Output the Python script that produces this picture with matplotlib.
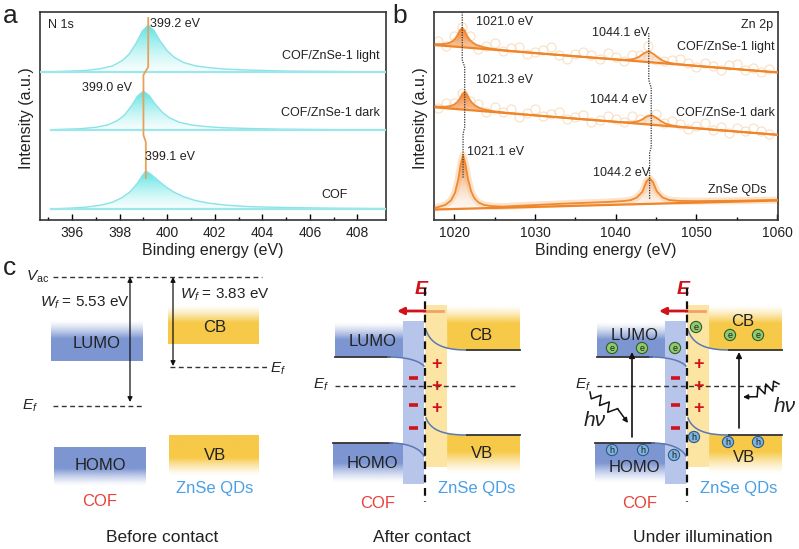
import numpy as np
import matplotlib.pyplot as plt
import matplotlib.colors as mcolors
from matplotlib.patches import Circle, FancyArrowPatch, Polygon

plt.rcParams['font.family'] = ['Liberation Sans', 'DejaVu Sans']
plt.rcParams['mathtext.fontset'] = 'custom'
plt.rcParams['mathtext.rm'] = 'Liberation Sans'
plt.rcParams['mathtext.it'] = 'Liberation Sans:italic'
plt.rcParams['mathtext.bf'] = 'Liberation Sans:bold:italic'

# ---------------- data: (a) N 1s ----------------
n1s_ticks = [396, 398, 400, 402, 404, 406, 408]
light_a_e = [394.7, 395.5, 396.5, 397.2, 397.7, 398.1, 398.4, 398.7, 398.95, 399.2, 399.45,
             399.7, 400.0, 400.3, 400.7, 401.2, 401.8, 402.5, 403.5, 405, 407, 409.2]
light_a_y = [148, 148.5, 149.4, 151.3, 154.1, 159.3, 165.9, 177.1, 188.9, 195, 189.4,
             179, 169.2, 162.6, 157.4, 154.1, 152.2, 150.8, 149.9, 148.9, 148.5, 148]
light_a_base = [148, 148]
dark_a_e = [395.1, 395.3, 396.3, 397.0, 397.5, 397.9, 398.2, 398.5, 398.75, 399.0, 399.25,
            399.5, 399.8, 400.1, 400.5, 401.0, 401.6, 402.3, 403.3, 404.8, 406.8, 409.2]
dark_a_y = [90, 90.4, 91.2, 92.7, 95.1, 99.4, 104.8, 114.2, 123.9, 129, 124.3,
            115.7, 107.6, 102.1, 97.8, 95.1, 93.5, 92.3, 91.6, 90.8, 90.4, 90]
dark_a_base = [90, 90]
cof_a_e = [395.1, 395.9, 396.6, 397.2, 397.7, 398.1, 398.45, 398.75, 398.95, 399.1, 399.3,
           399.6, 399.95, 400.3, 400.7, 401.2, 401.8, 402.5, 403.5, 405, 407, 409.2]
cof_a_y = [11, 11.8, 12.9, 14.8, 17.8, 22.4, 28.5, 36.8, 44.4, 49, 46,
           39.9, 33, 27.7, 23.2, 19.4, 16.7, 14.8, 13.3, 12.5, 11.8, 11.4]
cof_a_base = [11, 11]
shift_a_x = [399.2, 399.2, 399.0, 399.0, 399.1, 399.1]
shift_a_y = [202, 153, 145, 85, 78, 42]

# ---------------- data: (b) Zn 2p ----------------
zn_ticks = [1020, 1030, 1040, 1050, 1060]
light_b_e = [1017.7, 1018.5, 1019.2, 1019.7, 1020.1, 1020.4, 1020.7, 1021.0, 1021.3, 1021.6,
             1021.9, 1022.3, 1022.8, 1023.5, 1024.5, 1026, 1030, 1036, 1040.6, 1041.6,
             1042.3, 1042.9, 1043.5, 1044.1, 1044.7, 1045.3, 1045.9, 1046.6, 1047.6, 1052, 1060]
light_b_y = [175.9, 175.9, 176.6, 178.3, 181.1, 184.8, 189.7, 192.2, 189.4, 184.1,
             180.4, 177.4, 174.9, 173.1, 171.5, 169.9, 166.9, 163.1, 160.3, 160.3,
             161.2, 163.2, 166.8, 168.8, 166.0, 162.0, 159.1, 157.3, 155.9, 152.8, 147.6]
light_b_base = [174.9, 147.6]
dark_b_e = [1017.7, 1018.8, 1019.5, 1020.0, 1020.4, 1020.7, 1021.0, 1021.3, 1021.6, 1021.9,
            1022.2, 1022.6, 1023.1, 1023.8, 1024.8, 1026.3, 1030, 1036, 1040.9, 1041.9,
            1042.6, 1043.2, 1043.8, 1044.4, 1045.0, 1045.6, 1046.2, 1046.9, 1047.9, 1052, 1060]
dark_b_y = [113.5, 113.3, 113.9, 115.4, 118.1, 121.5, 126.0, 128.3, 125.6, 120.7,
            117.3, 114.5, 112.2, 110.4, 108.9, 107.4, 104.6, 100.7, 97.8, 97.7,
            98.4, 100.1, 103.3, 105.0, 102.5, 98.9, 96.3, 94.7, 93.3, 90.4, 85.2]
dark_b_base = [112.6, 85.2]
qd_b_e = [1017.7, 1018.9, 1019.6, 1020.1, 1020.5, 1020.8, 1021.1, 1021.4, 1021.7, 1022.1,
          1022.5, 1023.0, 1023.7, 1024.6, 1026, 1029, 1034, 1039, 1041.0, 1041.9, 1042.6,
          1043.3, 1043.8, 1044.2, 1044.6, 1045.1, 1045.8, 1046.6, 1047.8, 1050, 1055, 1060]
qd_b_y = [12.2, 15.1, 19.5, 27.2, 40.6, 55.8, 65.0, 55.9, 41.5, 28.7,
          21.8, 17.6, 15.0, 13.9, 13.4, 14.6, 16.5, 18.0, 19.0, 20.0, 22.4,
          28.2, 38.5, 41.7, 38.2, 28.6, 22.6, 20.0, 19.1, 18.9, 19.3, 20.0]
qd_b_base = [10.5, 19.5]
raw_b_e = list(range(1018, 1060))
raw_light_y = [178.9, 174.3, 184.3, 193.2, 183.5, 171.2, 174.4, 176.8, 168.5, 171.9, 173.2,
               165.6, 167.9, 170.3, 172.6, 165.0, 161.4, 165.7, 168.1, 165.4, 160.8, 167.1,
               162.5, 158.5, 165.4, 164.9, 173.6, 160.3, 158.8, 159.6, 161.3, 156.7, 153.0,
               157.4, 153.8, 150.1, 154.5, 155.8, 150.2, 151.5, 147.9, 151.2]
raw_dark_y = [112.3, 117.3, 117.4, 127.0, 119.4, 115.5, 108.3, 112.9, 108.2, 110.6, 102.9,
              107.3, 110.6, 104.0, 106.3, 107.7, 101.0, 103.4, 104.7, 98.1, 100.4, 103.8,
              101.1, 97.5, 103.7, 100.9, 101.4, 105.7, 97.2, 98.6, 96.0, 91.3, 93.7,
              97.0, 90.4, 92.7, 87.1, 92.4, 88.8, 92.2, 88.5, 85.9]
shift_b1_x = [1021.0, 1021.0, 1021.3, 1021.3, 1021.1, 1021.1]
shift_b1_y = [208, 160, 153, 93, 86, 42]
shift_b2_x = [1044.1, 1044.1, 1044.4, 1044.4, 1044.2, 1044.2]
shift_b2_y = [187, 140, 132, 73, 67, 20]

# ---------------- (c) work functions ----------------
wf_cof = 5.53
wf_znse = 3.83

W, H = 799, 549
TXT = '#222222'
BLUE, BLUE_L = '#7d96d2', '#b8c5ea'
YEL, YEL_L = '#f7c948', '#fce5a2'
RED = '#d0121b'

fig = plt.figure(figsize=(W / 100, H / 100), dpi=100)


def px_box(l, t, r, b):
    return [l / W, 1 - b / H, (r - l) / W, (b - t) / H]


ax_a = fig.add_axes(px_box(40, 12, 386, 220))
ax_b = fig.add_axes(px_box(434, 12, 778, 220))
# overlay axes in pixel coordinates for panel c and all free text
ax_c = fig.add_axes([0, 0, 1, 1], zorder=5)
ax_c.patch.set_alpha(0)


def grad_fill(ax, x, y, xb, yb, c_top, c_bot, a_top, a_bot, z=2):
    px = np.r_[x, xb[::-1]]
    py = np.r_[y, yb[::-1]]
    poly = ax.fill(px, py, facecolor='none', edgecolor='none')[0]
    c0 = np.array(mcolors.to_rgba(c_bot, a_bot))
    c1 = np.array(mcolors.to_rgba(c_top, a_top))
    t = np.linspace(0, 1, 100)[:, None]
    img = (c0 + (c1 - c0) * t)[:, None, :]
    im = ax.imshow(img, extent=(px.min(), px.max(), py.min(), py.max()), origin='lower',
                   aspect='auto', zorder=z, interpolation='bilinear')
    im.set_clip_path(poly)


# ---------------- panel a ----------------
for e, y, base in [(light_a_e, light_a_y, light_a_base), (dark_a_e, dark_a_y, dark_a_base),
                   (cof_a_e, cof_a_y, cof_a_base)]:
    xb = [e[0], e[-1]]
    grad_fill(ax_a, e, y, xb, base, '#45e0e0', '#effcfc', 0.9, 0.45)
    ax_a.plot(e, y, color='#8ae3e7', lw=1.0, zorder=3)
    ax_a.plot(xb, base, color='#9be7eb', lw=1.6, zorder=3)
ax_a.plot(shift_a_x, shift_a_y, color='#e8a15a', lw=1.3, zorder=4)
ax_a.set_xlim(394.65, 409.2)
ax_a.set_ylim(0, 208)
ax_a.set_xticks(n1s_ticks)
ax_a.set_xticks(np.arange(395, 409, 1), minor=True)

# ---------------- panel b ----------------
ax_b.plot(qd_b_e, qd_b_y, color='#fde3c9', lw=5, zorder=1, solid_capstyle='round')
ax_b.plot(raw_b_e, raw_light_y, 'o', ms=6.5, mfc='none', mec='#f9dfc4', mew=0.8, zorder=1)
ax_b.plot(raw_b_e, raw_dark_y, 'o', ms=6.5, mfc='none', mec='#f9dfc4', mew=0.8, zorder=1)
for e, y, base in [(light_b_e, light_b_y, light_b_base), (dark_b_e, dark_b_y, dark_b_base),
                   (qd_b_e, qd_b_y, qd_b_base)]:
    xb = [e[0], e[-1]]
    grad_fill(ax_b, e, y, xb, base, '#ee741a', '#fde9d6', 0.95, 0.3)
    ax_b.plot(e, y, color='#f08a30', lw=1.3, zorder=3)
    ax_b.plot(xb, base, color='#ef8428', lw=1.6, zorder=3)
ax_b.plot(shift_b1_x, shift_b1_y, color='#333333', lw=0.9, ls=(0, (1, 1)), zorder=4)
ax_b.plot(shift_b2_x, shift_b2_y, color='#333333', lw=0.9, ls=(0, (1, 1)), zorder=4)
ax_b.set_xlim(1017.5, 1060.1)
ax_b.set_ylim(0, 208)
ax_b.set_xticks(zn_ticks)
ax_b.set_xticks(np.arange(1025, 1060, 10), minor=True)

for ax in (ax_a, ax_b):
    ax.set_yticks([])
    ax.tick_params(axis='x', which='major', direction='in', length=4, width=1,
                   labelsize=10, pad=4, labelcolor=TXT)
    ax.tick_params(axis='x', which='minor', direction='in', length=2.5, width=1)
    for s in ax.spines.values():
        s.set_linewidth(1.2)
        s.set_color('#333333')

# ---------------- panel c (pixel coordinates) ----------------
c = ax_c
c.set_xlim(0, W)
c.set_ylim(H, 0)
c.axis('off')


def T(x, y, s, size=12, color=TXT, ha='center', va='center', **kw):
    c.text(x, y, s, fontsize=size, color=color, ha=ha, va=va, **kw)


# panel letters, axis titles and annotations of a/b
T(3, 23, 'a', 19, ha='left', va='baseline')
T(392, 23, 'b', 19, ha='left', va='baseline')
T(3, 275, 'c', 19, ha='left', va='baseline')
T(213, 251, 'Binding energy (eV)', 11.5)
T(606, 250, 'Binding energy (eV)', 11.5)
T(26, 118, 'Intensity (a.u.)', 11.5, rotation=90)
T(421, 118, 'Intensity (a.u.)', 11.5, rotation=90)
T(48, 25, 'N 1s', 9, ha='left')
T(150, 24, '399.2 eV', 9, ha='left')
T(380, 56, 'COF/ZnSe-1 light', 9, ha='right')
T(82, 88, '399.0 eV', 9, ha='left')
T(380, 113, 'COF/ZnSe-1 dark', 9, ha='right')
T(145, 157, '399.1 eV', 9, ha='left')
T(348, 195, 'COF', 9, ha='right')
T(476, 22, '1021.0 eV', 9, ha='left')
T(592, 33, '1044.1 eV', 9, ha='left')
T(773, 25, 'Zn 2p', 9, ha='right')
T(775, 47, 'COF/ZnSe-1 light', 9, ha='right')
T(476, 80, '1021.3 eV', 9, ha='left')
T(590, 100, '1044.4 eV', 9, ha='left')
T(775, 113, 'COF/ZnSe-1 dark', 9, ha='right')
T(467, 152, '1021.1 eV', 9, ha='left')
T(593, 173, '1044.2 eV', 9, ha='left')
T(767, 190, 'ZnSe QDs', 9, ha='right')


def grad_region(verts, color, fade, solid=0.55, z=1):
    verts = np.asarray(verts, float)
    poly = Polygon(verts, closed=True, facecolor='none', edgecolor='none')
    c.add_patch(poly)
    x0, x1 = verts[:, 0].min(), verts[:, 0].max()
    y0, y1 = verts[:, 1].min(), verts[:, 1].max()
    t = np.linspace(0, 1, 80)
    if fade == 'top':
        a = np.clip(t / (1 - solid), 0, 1)
    else:
        a = np.clip((1 - t) / (1 - solid), 0, 1)
    rgba = np.zeros((80, 1, 4))
    rgba[..., :3] = mcolors.to_rgb(color)
    rgba[..., 3] = (a ** 1.3)[:, None]
    im = c.imshow(rgba, extent=(x0, x1, y1, y0), origin='upper', aspect='auto',
                  interpolation='bilinear', zorder=z)
    im.set_clip_path(poly)


def rect(x0, x1, y0, y1):
    return [(x0, y0), (x1, y0), (x1, y1), (x0, y1)]


def bez(p0, p1, p2, p3, n=30):
    t = np.linspace(0, 1, n)[:, None]
    p0, p1, p2, p3 = map(np.array, (p0, p1, p2, p3))
    return (1 - t) ** 3 * p0 + 3 * (1 - t) ** 2 * t * p1 + 3 * (1 - t) * t ** 2 * p2 + t ** 3 * p3


def dline(x0, x1, y, lw=1.0):
    c.plot([x0, x1], [y, y], color='#333333', lw=lw, ls=(0, (3.5, 2.5)))


def darrow(x, y0, y1):
    c.add_patch(FancyArrowPatch((x, y0), (x, y1), arrowstyle='<|-|>', mutation_scale=7,
                                color='#111111', lw=0.9, shrinkA=0, shrinkB=0))


# ----- before contact -----
dline(53, 262, 277)
T(38, 277, r'$V_{\rm ac}$', 11)
grad_region(rect(51, 143, 320, 361), BLUE, 'top')
grad_region(rect(54, 146, 447, 486), BLUE, 'bottom')
grad_region(rect(168, 259, 305, 344), YEL, 'top')
grad_region(rect(169, 259, 435, 476), YEL, 'bottom')
darrow(130, 277, 402)
darrow(173, 277, 366)
T(40, 303, r'$W_f$ = %.2f eV' % wf_cof, 11, ha='left')
T(180, 295, r'$W_f$ = %.2f eV' % wf_znse, 11, ha='left')
dline(53, 143, 406)
T(30, 406, r'$E_f$', 11)
dline(170, 268, 367)
T(270, 369, r'$E_f$', 11, ha='left')
T(97, 343, 'LUMO', 12)
T(100, 466, 'HOMO', 12)
T(215, 327, 'CB', 12)
T(215, 455, 'VB', 12)
T(100, 502, 'COF', 12, color='#e8403b')
T(215, 489, 'ZnSe QDs', 12, color='#4a9fe6')
T(162, 537, 'Before contact', 12.5)


def contact(dx, y_lumo_txt, y_homo_txt, y_cb_txt, y_vb_txt):
    # COF side
    grad_region(rect(335 + dx, 403 + dx, 322, 357), BLUE, 'top', solid=0.5)
    c.add_patch(Polygon(rect(403 + dx, 424 + dx, 321, 484), closed=True,
                        facecolor=BLUE_L, edgecolor='none', zorder=1))
    grad_region(rect(333 + dx, 403 + dx, 443, 483), BLUE, 'bottom', solid=0.5)
    c.plot([335 + dx, 390 + dx], [357, 357], color='#333333', lw=1.3, zorder=3)
    cv = bez((388 + dx, 357), (405 + dx, 357), (418 + dx, 360), (424 + dx, 366))
    c.plot(cv[:, 0], cv[:, 1], color='#5a78b4', lw=1.1, zorder=3)
    c.plot([333 + dx, 392 + dx], [443, 443], color='#333333', lw=1.3, zorder=3)
    cv = bez((390 + dx, 443), (405 + dx, 443), (419 + dx, 447), (424 + dx, 456))
    c.plot(cv[:, 0], cv[:, 1], color='#5a78b4', lw=1.1, zorder=3)
    # ZnSe side
    c.add_patch(Polygon(rect(425 + dx, 447 + dx, 305, 467), closed=True,
                        facecolor=YEL_L, edgecolor='none', zorder=1))
    cb = bez((426 + dx, 330), (431 + dx, 345), (445 + dx, 350), (467 + dx, 350))
    seg = cb[cb[:, 0] >= 447 + dx][::-1]
    grad_region([(447 + dx, 305), (520 + dx, 305), (520 + dx, 350)] + list(map(tuple, seg)),
                YEL, 'top', solid=0.6)
    c.plot(cb[:, 0], cb[:, 1], color='#5a78b4', lw=1.1, zorder=3)
    c.plot([467 + dx, 520 + dx], [350, 350], color='#333333', lw=1.3, zorder=3)
    vb = bez((426 + dx, 418), (431 + dx, 431), (445 + dx, 435), (467 + dx, 435))
    seg = vb[vb[:, 0] >= 447 + dx]
    grad_region(list(map(tuple, seg)) + [(520 + dx, 435), (520 + dx, 474), (447 + dx, 474)],
                YEL, 'bottom', solid=0.45)
    c.plot(vb[:, 0], vb[:, 1], color='#5a78b4', lw=1.1, zorder=3)
    c.plot([467 + dx, 520 + dx], [435, 435], color='#333333', lw=1.3, zorder=3)
    # interface, Fermi level, built-in field
    c.plot([425 + dx, 425 + dx], [288, 502], color='#111111', lw=1.6, ls=(0, (3.5, 2.5)), zorder=4)
    dline(335 + dx, 518 + dx, 386)
    T(329 + dx, 385, r'$E_f$', 11, ha='right')
    c.plot([424 + dx, 443 + dx], [311, 311], color='#f2a06a', lw=2, zorder=4)
    c.add_patch(FancyArrowPatch((425 + dx, 311), (397 + dx, 311), arrowstyle='-|>',
                                mutation_scale=10, color=RED, lw=2, shrinkA=0, shrinkB=0, zorder=5))
    T(422 + dx, 290, r'$\mathbf{E}$', 14, color=RED)
    for y in (378, 405, 428):
        c.plot([409 + dx, 418 + dx], [y, y], color=RED, lw=2.6, zorder=5, solid_capstyle='butt')
    for y in (364, 387, 409):
        T(437 + dx, y, '+', 13, color=RED, fontweight='bold', zorder=5)
    T(373 + dx, y_lumo_txt, 'LUMO', 12, zorder=6)
    T(372 + dx, y_homo_txt, 'HOMO', 12, zorder=6)
    T(481 + dx, y_cb_txt, 'CB', 12, zorder=6)
    T(482 + dx, y_vb_txt, 'VB', 12, zorder=6)
    T(378 + dx, 503, 'COF', 12, color='#e8403b')
    T(477 + dx, 489, 'ZnSe QDs', 12, color='#4a9fe6')


contact(0, 341, 463, 335, 453)
T(422, 537, 'After contact', 12.5)

contact(262, 335, 468, 321, 458)
T(703, 537, 'Under illumination', 12.5)


def carrier(x, y, kind):
    fc, ec = ('#8fcb6c', '#2f5d2a') if kind == 'e' else ('#7fb2dc', '#2c5a86')
    c.add_patch(Circle((x, y), 5.6, facecolor=fc, edgecolor=ec, lw=0.8, zorder=7))
    T(x, y + 0.3, kind, 6.5, color='#1a1a1a', zorder=8)


for x, y in [(612, 348), (642, 348), (675, 348), (696, 327), (730, 335), (758, 335)]:
    carrier(x, y, 'e')
for x, y in [(612, 450), (643, 450), (674, 455), (694, 437), (728, 442), (758, 442)]:
    carrier(x, y, 'h')

for x, y0, y1 in [(632, 437, 352), (739, 428, 352)]:
    c.add_patch(FancyArrowPatch((x, y0), (x, y1), arrowstyle='-|>', mutation_scale=8,
                                color='#111111', lw=1.2, shrinkA=0, shrinkB=0, zorder=6))


def squiggle(p0, p1, n=3, amp=4.5):
    p0, p1 = np.array(p0, float), np.array(p1, float)
    d = p1 - p0
    u = d / np.hypot(*d)
    nrm = np.array([-u[1], u[0]])
    pts = [p0]
    for i in range(1, 2 * n + 1):
        pts.append(p0 + d * (0.65 * i / (2 * n)) + nrm * amp * (1 if i % 2 else -1))
    pts = np.array(pts)
    c.plot(pts[:, 0], pts[:, 1], color='#111111', lw=1.1, zorder=6)
    c.add_patch(FancyArrowPatch(tuple(pts[-1]), tuple(p1), arrowstyle='-|>', mutation_scale=7,
                                color='#111111', lw=1.1, shrinkA=0, shrinkB=0, zorder=6))


squiggle((590, 392), (628, 423))
squiggle((779, 384), (743, 397))
T(595, 420, 'hν', 15, style='italic')
T(785, 407, 'hν', 15, style='italic')

fig.savefig('out.png', dpi=100)
